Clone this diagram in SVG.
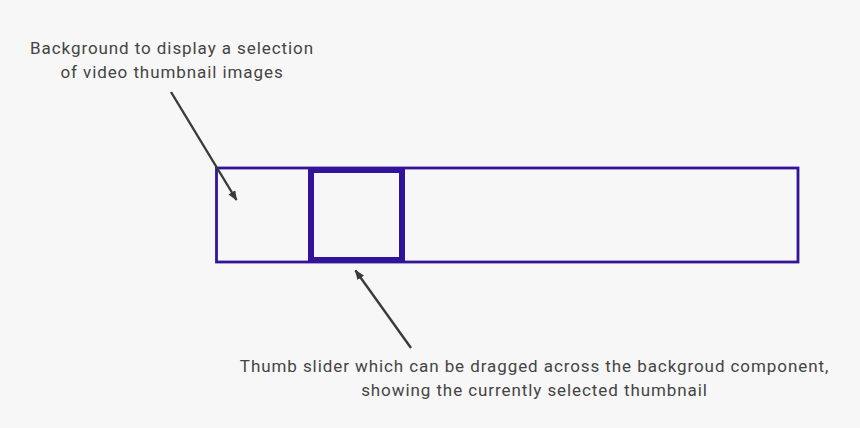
<svg xmlns="http://www.w3.org/2000/svg" width="860" height="428" viewBox="0 0 860 428">
<style>
.lbl{font-family:Roboto,"Liberation Sans",sans-serif;font-size:17px;letter-spacing:0.92px;fill:#444444;text-anchor:middle}
.bar{fill:none;stroke:#33139a}
.conn{stroke:#3a3a3a;stroke-width:2.4;fill:none}
</style>
<defs>
<marker id="ah" markerWidth="10" markerHeight="8" refX="9" refY="4" orient="auto" markerUnits="userSpaceOnUse">
<path d="M0,0 L10,4 L0,8 Z" fill="#3a3a3a"/>
</marker>
</defs>
<rect width="860" height="428" fill="#f7f7f7"/>
<g id="background-bar">
<rect class="bar" x="216.5" y="168" width="581.5" height="94" stroke-width="2.8"/>
</g>
<g id="thumb-slider">
<rect class="bar" x="311" y="170" width="91" height="90" stroke-width="6"/>
</g>
<g id="label-background">
<text class="lbl" x="172" y="54">Background to display a selection</text>
<text class="lbl" x="172" y="78">of video thumbnail images</text>
</g>
<g id="label-thumb">
<text class="lbl" x="534.5" y="371.5">Thumb slider which can be dragged across the backgroud component,</text>
<text class="lbl" x="534.5" y="395.5">showing the currently selected thumbnail</text>
</g>
<g id="connectors">
<line class="conn" x1="171" y1="92" x2="236.5" y2="200" marker-end="url(#ah)"/>
<line class="conn" x1="411" y1="348" x2="355.5" y2="270.5" marker-end="url(#ah)"/>
</g>
</svg>
